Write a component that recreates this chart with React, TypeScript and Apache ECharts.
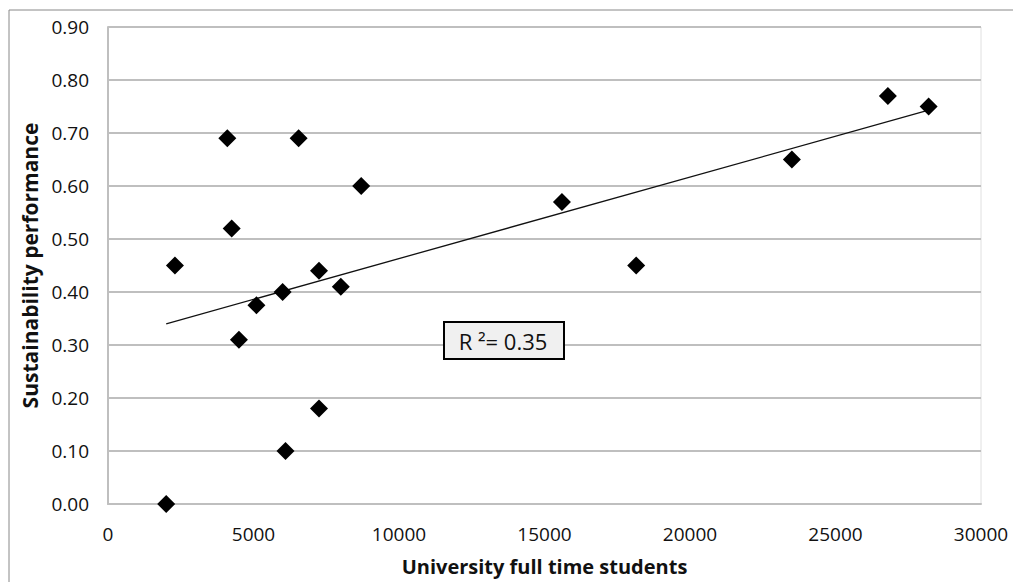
import React, { useEffect, useRef } from "react";
import * as echarts from "echarts";

const studentsX = [2000, 2300, 4100, 4250, 4500, 5100, 6000, 6100, 6550, 7250, 7250, 8000, 8700, 15600, 18150, 23500, 26800, 28200];
const performanceY = [0.0, 0.45, 0.69, 0.52, 0.31, 0.375, 0.4, 0.1, 0.69, 0.44, 0.18, 0.41, 0.6, 0.57, 0.45, 0.65, 0.77, 0.75];
const trendX = [2000, 28200];
const trendY = [0.34, 0.743];
const rSquaredLabel = "R ²= 0.35";
const xTitle = "University full time students";
const yTitle = "Sustainability performance";

export default function App() {
  const ref = useRef<HTMLDivElement>(null);
  useEffect(() => {
    document.body.style.margin = "0";
    const chart = echarts.init(ref.current!, null, { renderer: "svg" });
    const font = "Open Sans";
    chart.setOption({
      animation: false,
      backgroundColor: "#ffffff",
      grid: { left: 108, top: 27, right: 32, bottom: 78, containLabel: false,
        outerBoundsMode: "none",
        show: true, borderColor: "#e0e0e0", borderWidth: 1 },
      xAxis: {
        type: "value", min: 0, max: 30000, interval: 5000,
        axisLine: { show: true, lineStyle: { color: "#bfbfbf", width: 2 } },
        axisTick: { show: false },
        splitLine: { show: false },
        axisLabel: { color: "#111", fontFamily: font, fontSize: 19, margin: 20,
          formatter: (v: number) => String(v) },
        name: xTitle, nameLocation: "middle", nameGap: 52,
        nameTextStyle: { color: "#111", fontFamily: font, fontSize: 20, fontWeight: "bold" },
      },
      yAxis: {
        type: "value", min: 0, max: 0.9, interval: 0.1,
        axisLine: { show: true, lineStyle: { color: "#bfbfbf", width: 2 } },
        axisTick: { show: false },
        splitLine: { show: true, lineStyle: { color: "#bfbfbf", width: 2 } },
        axisLabel: { color: "#111", fontFamily: font, fontSize: 19, margin: 19,
          formatter: (v: number) => v.toFixed(2) },
        name: yTitle, nameLocation: "middle", nameGap: 65, nameRotate: 90,
        nameTextStyle: { color: "#111", fontFamily: font, fontSize: 21, fontWeight: "bold" },
      },
      series: [
        {
          type: "line",
          data: trendX.map((x, i) => [x, trendY[i]]),
          symbol: "none",
          lineStyle: { color: "#111", width: 1.3 },
          z: 2,
        },
        {
          type: "scatter",
          data: studentsX.map((x, i) => [x, performanceY[i]]),
          symbol: "diamond",
          symbolSize: [18, 18],
          itemStyle: { color: "#000", opacity: 1 },
          z: 3,
        },
      ],
      graphic: [
        { type: "rect", shape: { x: 9, y: 10, width: 1010, height: 580 },
          style: { fill: "none", stroke: "#888", lineWidth: 1 }, silent: true },
        { type: "rect", shape: { x: 444, y: 322, width: 120, height: 37 },
          style: { fill: "#f0f0f0", stroke: "#000", lineWidth: 2 }, z: 10 },
        { type: "text", x: 503, y: 341, z: 11,
          style: { text: rSquaredLabel, fill: "#111", fontFamily: font, fontSize: 22, align: "center", verticalAlign: "middle" } },
      ],
    });
    return () => chart.dispose();
  }, []);
  return <div ref={ref} style={{ width: 1013, height: 582 }} />;
}
